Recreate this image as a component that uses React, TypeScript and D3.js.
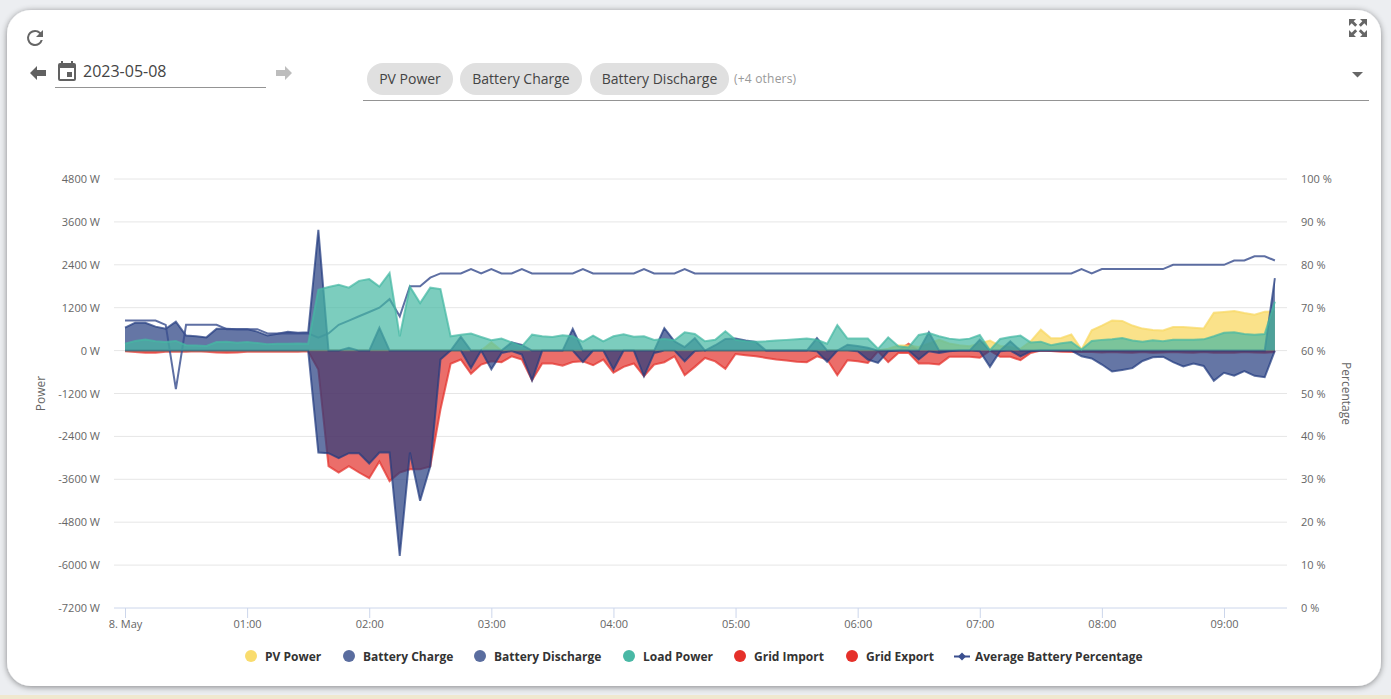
import React, { useEffect, useRef } from 'react'
import * as d3 from 'd3'

const W = 1391
const H = 699
const FONT = '"Open Sans", sans-serif'

const powerTicks = [-7200, -6000, -4800, -3600, -2400, -1200, 0, 1200, 2400, 3600, 4800]
const percentTicks = [0, 10, 20, 30, 40, 50, 60, 70, 80, 90, 100]
const hourTicks = [0, 1, 2, 3, 4, 5, 6, 7, 8, 9]

// one sample every 5 minutes
const pvPower = [
  0, 0, 0, 0, 0, 0, 0, 0, 0, 0, 0, 0, 0, 0, 0, 0, 0, 0, 0, 0,
  0, 0, 0, 0, 0, 0, 0, 0, 0, 0, 0, 0, 0, 0, 0, 0, 230, 0, 0, 0,
  0, 0, 0, 0, 0, 0, 0, 0, 0, 0, 0, 0, 0, 0, 0, 0, 0, 0, 0, 0,
  0, 0, 0, 0, 0, 0, 0, 0, 0, 0, 0, 0, 0, 0, 0, 50, 140, 140, 100, 200,
  300, 200, 150, 120, 200, 280, 130, 100, 50, 260, 585, 345, 355, 455, 30, 570, 700, 845, 830, 700,
  615, 575, 565, 660, 660, 640, 620, 1060, 1080, 1105, 1050, 1005, 1090, 1100,
]
const batteryCharge = [
  0, 0, 0, 0, 0, 0, 0, 0, 0, 0, 0, 0, 0, 0, 0, 0, 0, 0, 0, -2850,
  -2870, -3010, -2870, -2870, -3160, -2850, -2850, -5740, -2850, -4200, -3240, -250, 0, 0, -490, 0, -520, -65, -10, -110,
  -830, 0, 0, 0, 0, -320, 0, 0, -530, 0, 0, -715, -65, 0, 0, -300, -10, 0, 0, 0,
  0, 0, 0, 0, 0, 0, 0, 0, -20, -315, 0, 0, -20, -250, -345, -20, 0, 0, -250, -20,
  -65, -20, 0, 0, -20, -455, -20, 0, -160, -20, 0, 0, 0, 0, -160, -220, -390, -585, -540, -490,
  -290, -185, -170, -325, -445, -360, -430, -845, -620, -700, -575, -705, -745, 0,
]
const batteryDischarge = [
  640, 780, 780, 670, 610, 810, 420, 400, 370, 610, 610, 600, 600, 530, 420, 470, 530, 500, 510, 3380,
  0, 0, 80, 0, 0, 640, 0, 0, 0, 0, 0, 0, 0, 390, 0, 0, 0, 0, 230, 160,
  0, 0, 0, 0, 610, 0, 0, 0, 0, 0, 0, 0, 0, 630, 260, 100, 350, 0, 150, 325,
  335, 280, 240, 0, 0, 0, 0, 0, 350, 0, 0, 165, 130, 80, 0, 0, 0, 0, 0, 510,
  0, 0, 0, 0, 305, 0, 0, 260, 0, 0, 0, 0, 0, 0, 0, 0, 0, 0, 0, 0,
  0, 0, 0, 0, 0, 0, 0, 0, 0, 0, 0, 0, 0, 2030,
]
const loadPower = [
  190, 270, 310, 260, 240, 270, 150, 140, 130, 240, 250, 220, 240, 210, 180, 190, 190, 200, 190, 1700,
  1780, 1840, 1760, 1950, 2000, 1790, 2170, 400, 1790, 1330, 1760, 1720, 400, 445, 475, 380, 290, 335, 230, 120,
  445, 400, 380, 430, 400, 250, 420, 260, 400, 455, 390, 400, 300, 325, 290, 510, 465, 260, 305, 540,
  305, 260, 250, 260, 280, 300, 315, 335, 305, 195, 715, 335, 335, 335, 50, 370, 120, 90, 437, 490,
  400, 335, 305, 335, 437, 10, 325, 380, 420, 230, 250, 150, 205, 240, 30, 270, 300, 315, 355, 280,
  250, 290, 260, 305, 305, 305, 315, 400, 500, 510, 465, 445, 465, 1370,
]
const gridImport = [
  0, 0, 0, 0, 0, 0, 0, 0, 0, 0, 0, 0, 0, 0, 0, 0, 0, 0, 0, 0,
  0, 0, 0, 0, 0, 0, 0, 0, 0, 0, 0, 0, 0, 0, 0, 0, 0, 0, 0, 0,
  0, 0, 0, 0, 0, 0, 0, 0, 0, 0, 0, 0, 0, 0, 0, 0, 0, 0, 0, 0,
  0, 0, 0, 0, 0, 0, 0, 0, 0, 0, 0, 0, 0, 0, 0, 0, 0, 190, 0, 0,
  0, 0, 0, 0, 0, 0, 0, 0, 0, 0, 0, 0, 0, 0, 0, 0, 0, 0, 0, 0,
  0, 0, 0, 0, 0, 0, 0, 0, 0, 0, 0, 0, 0, 0,
]
const gridExport = [
  -20, -40, -60, -60, -30, -30, -30, -20, -30, -50, -60, -50, -30, -30, -30, -30, -30, -30, -20, -530,
  -3230, -3410, -3230, -3410, -3570, -3100, -3650, -3410, -3320, -3320, -3240, -1650, -370, -250, -650, -390, -300, -325, -160, -250,
  -830, -360, -360, -420, -320, -300, -410, -250, -620, -455, -360, -715, -390, -325, -160, -690, -455, -205, -300, -510,
  -95, -130, -160, -205, -250, -280, -315, -325, -160, -250, -690, -270, -300, -345, -20, -325, -65, -65, -360, -360,
  -390, -175, -175, -175, -200, 0, -175, -175, -270, -65, 0, -10, -30, -40, -30, -40, -50, -40, -50, -60,
  -40, -60, -50, -40, -50, -60, -40, -60, -50, -60, -40, -50, -60, -40,
]
const batteryPercent = [
  67, 67, 67, 67, 66, 51, 66, 66, 66, 66, 65, 65, 65, 65, 64, 64, 64, 64, 64, 63,
  64, 66, 67, 68, 69, 70, 72, 68, 75, 75, 77, 78, 78, 78, 79, 78, 79, 78, 78, 79,
  78, 78, 78, 78, 78, 79, 78, 78, 78, 78, 78, 79, 78, 78, 78, 79, 78, 78, 78, 78,
  78, 78, 78, 78, 78, 78, 78, 78, 78, 78, 78, 78, 78, 78, 78, 78, 78, 78, 78, 78,
  78, 78, 78, 78, 78, 78, 78, 78, 78, 78, 78, 78, 78, 78, 79, 78, 79, 79, 79, 79,
  79, 79, 79, 80, 80, 80, 80, 80, 80, 81, 81, 82, 82, 81,
]

const legendItems = [
  { name: 'PV Power', color: '#f9dc6e', x: 251 },
  { name: 'Battery Charge', color: '#5a6d9f', x: 349 },
  { name: 'Battery Discharge', color: '#5a6d9f', x: 480 },
  { name: 'Load Power', color: '#49b8a5', x: 629 },
  { name: 'Grid Import', color: '#e5302a', x: 740 },
  { name: 'Grid Export', color: '#e5302a', x: 852 },
]

const chips = [
  { label: 'PV Power', x: 367, w: 86 },
  { label: 'Battery Charge', x: 460, w: 122 },
  { label: 'Battery Discharge', x: 590, w: 139 },
]

const toDate = (minutes: number) => new Date(Date.UTC(2023, 4, 8, 0, minutes))
const hourFormat = d3.utcFormat('%H:%M')

const x = d3.scaleUtc().domain([toDate(0), toDate(9 * 60)]).range([125, 1224])
const yPower = d3.scaleLinear().domain([-7200, 4800]).range([608, 179])
const yPercent = d3.scaleLinear().domain([0, 100]).range([608, 179])

const area = d3
  .area<number>()
  .x((_, i) => x(toDate(i * 5)))
  .y0(yPower(0))
  .y1((d) => yPower(d))

const powerLine = d3
  .line<number>()
  .x((_, i) => x(toDate(i * 5)))
  .y((d) => yPower(d))

const percentLine = d3
  .line<number>()
  .x((_, i) => x(toDate(i * 5)))
  .y((d) => yPercent(d))

const Series = ({ values, color, fillOpacity = 0.7 }: { values: number[]; color: string; fillOpacity?: number }) => (
  <g>
    <path d={area(values) as string} fill={color} fillOpacity={fillOpacity} />
    <path d={powerLine(values) as string} fill="none" stroke={color} strokeWidth={2} strokeOpacity={0.72} />
  </g>
)

export default function App() {
  const bottomRef = useRef<SVGGElement | null>(null)
  const leftRef = useRef<SVGGElement | null>(null)
  const rightRef = useRef<SVGGElement | null>(null)

  useEffect(() => {
    const bottom = d3
      .axisBottom(x)
      .tickValues(hourTicks.map((h) => toDate(h * 60)))
      .tickSize(10)
      .tickPadding(2)
      .tickFormat((d) => (+d === +toDate(0) ? '8. May' : hourFormat(d as Date)))
    const left = d3
      .axisLeft(yPower)
      .tickValues(powerTicks)
      .tickSize(0)
      .tickPadding(14)
      .tickFormat((d) => `${d} W`)
    const right = d3
      .axisRight(yPercent)
      .tickValues(percentTicks)
      .tickSize(0)
      .tickPadding(14)
      .tickFormat((d) => `${d} %`)

    const style = (g: any) => {
      g.select('.domain').remove()
      g.selectAll('line').attr('stroke', '#ccd6eb')
      g.selectAll('text').attr('fill', '#666').attr('font-size', 11).attr('font-family', FONT)
    }
    d3.select(bottomRef.current).call(bottom).call(style)
    d3.select(leftRef.current).call(left).call(style)
    d3.select(rightRef.current).call(right).call(style)
  }, [])

  return (
    <svg
      width={W}
      height={H}
      viewBox={`0 0 ${W} ${H}`}
      style={{ position: 'fixed', left: 0, top: 0, display: 'block', fontFamily: FONT }}
    >
      <defs>
        <filter id="cardShadow" x="-5%" y="-5%" width="110%" height="110%">
          <feDropShadow dx="0" dy="1" stdDeviation="3" floodColor="#000" floodOpacity="0.45" />
        </filter>
      </defs>
      <rect width={W} height={H} fill="#eceef1" />
      <rect y={695} width={W} height={4} fill="#f0e8cf" />
      <rect x={7} y={10} width={1374} height={676} rx={24} fill="#fff" filter="url(#cardShadow)" />

      {/* toolbar */}
      <path
        transform="translate(23,26)"
        d="M17.65 6.35A7.96 7.96 0 0 0 12 4a8 8 0 1 0 7.75 10h-2.08A6 6 0 1 1 12 6c1.66 0 3.14.69 4.22 1.78L13 11h7V4l-2.35 2.35z"
        fill="#666"
      />
      <path d="M30 73l7-7v4h9v6h-9v4z" fill="#616161" />
      <path d="M292 73l-7-7v4h-9v6h9v4z" fill="#bdbdbd" />
      <path
        transform="translate(55,59)"
        d="M17 13h-5v5h5v-5zM16 2v2H8V2H6v2H5a2 2 0 0 0-2 2v14a2 2 0 0 0 2 2h14a2 2 0 0 0 2-2V6a2 2 0 0 0-2-2h-1V2h-2zm3 18H5V9h14v11z"
        fill="#616161"
      />
      <text x={83} y={77} fontSize={16} fill="#444">2023-05-08</text>
      <line x1={55} x2={266} y1={87.5} y2={87.5} stroke="#949494" />
      {chips.map((c) => (
        <g key={c.label}>
          <rect x={c.x} y={63} width={c.w} height={32} rx={16} fill="#e0e0e0" />
          <text x={c.x + c.w / 2} y={84} fontSize={14} fill="#444" textAnchor="middle">{c.label}</text>
        </g>
      ))}
      <text x={734} y={83} fontSize={12} letterSpacing={0.2} fill="#999">(+4 others)</text>
      <line x1={363} x2={1369} y1={100.5} y2={100.5} stroke="#949494" />
      <path d="M1352 72h11l-5.500 5.500z" fill="#666" />
      <path
        d="M1349 19h7l-2.300 2.300 3.500 3.500-2 2-3.500-3.500-2.700 2.700zM1367 19h-7l2.300 2.300-3.500 3.500 2 2 3.500-3.500 2.700 2.700zM1349 37h7l-2.300-2.300 3.500-3.500-2-2-3.500 3.500-2.700-2.700zM1367 37h-7l2.300-2.300-3.500-3.500 2-2 3.500 3.500 2.700-2.700z"
        fill="#666"
      />

      {/* grid */}
      {powerTicks.filter((t) => t !== -7200).map((t) => (
        <line key={t} x1={114} x2={1287} y1={yPower(t)} y2={yPower(t)} stroke="#e6e6e6" />
      ))}
      <line x1={114} x2={1287} y1={608} y2={608} stroke="#ccd6eb" />

      {/* axes */}
      <g ref={bottomRef} transform="translate(0,608)" />
      <g ref={leftRef} transform="translate(114,0)" />
      <g ref={rightRef} transform="translate(1287,0)" />
      <text transform={`translate(45,${yPower(-1200)}) rotate(-90)`} fontSize={12} fill="#666" textAnchor="middle">Power</text>
      <text transform={`translate(1342,${yPower(-1200)}) rotate(90)`} fontSize={12} fill="#666" textAnchor="middle">Percentage</text>

      {/* series */}
      <Series values={gridExport} color="#e3312b" />
      <Series values={gridImport} color="#e3312b" />
      <Series values={pvPower} color="#f8d863" fillOpacity={0.75} />
      <Series values={batteryCharge} color="#233c7f" />
      <Series values={batteryDischarge} color="#233c7f" />
      <path d={percentLine(batteryPercent) as string} fill="none" stroke="#3a4f8f" strokeWidth={2} strokeOpacity={0.82} />
      <Series values={loadPower} color="#45b8a3" />

      {/* legend */}
      {legendItems.map((l) => (
        <g key={l.name}>
          <circle cx={l.x} cy={656} r={6} fill={l.color} />
          <text x={l.x + 14} y={661} fontSize={12} fontWeight={700} fill="#333">{l.name}</text>
        </g>
      ))}
      <line x1={954} x2={970} y1={656.5} y2={656.5} stroke="#3a4f8f" strokeWidth={2} />
      <path d="M962 652.500l4 4-4 4-4-4z" fill="#3a4f8f" />
      <text x={975} y={661} fontSize={12} fontWeight={700} fill="#333">Average Battery Percentage</text>
    </svg>
  )
}
